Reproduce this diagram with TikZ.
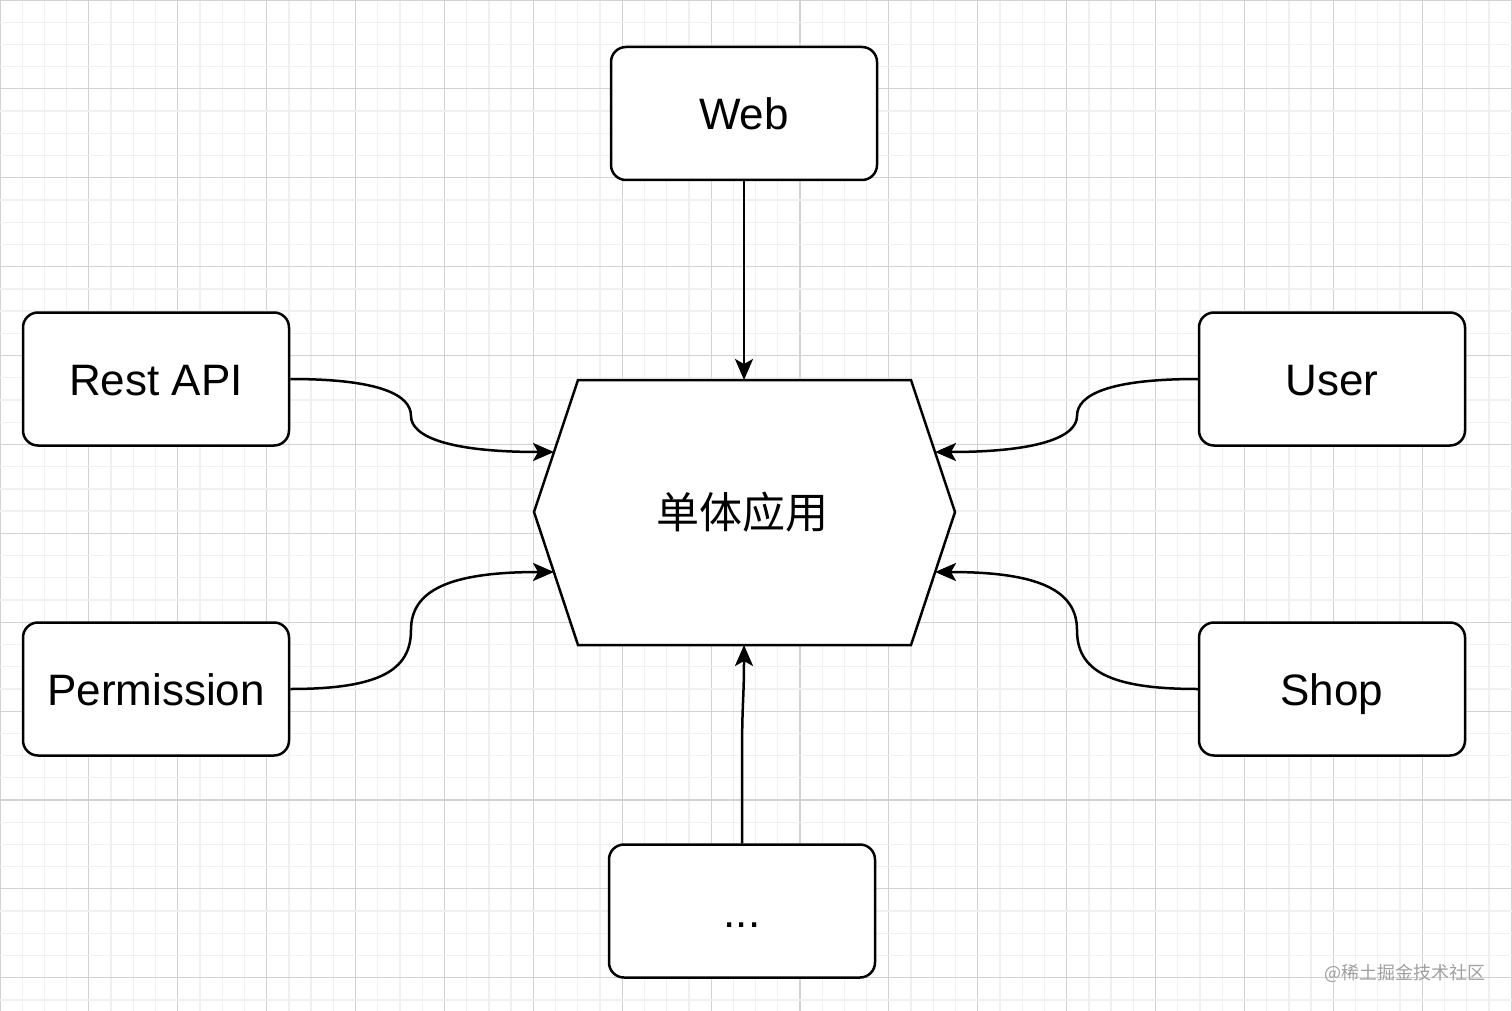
\documentclass[tikz,border=0pt]{standalone}
\usepackage{fontspec}
\setmainfont{Liberation Sans}
\newfontfamily\cjk{Noto Sans CJK SC}
\usetikzlibrary{arrows.meta}
\definecolor{gminor}{RGB}{240,240,240}
\definecolor{gmajor}{RGB}{210,210,210}
\definecolor{wm}{RGB}{160,160,160}
\begin{document}
\begin{tikzpicture}[x=1pt,y=-1pt,
  box/.style={draw=black,line width=2.5pt,rounded corners=15pt,fill=white,
    minimum width=266pt,minimum height=133pt,inner sep=0pt,
    text height=32pt,text depth=0pt,font=\fontsize{44}{50}\selectfont},
  conn/.style={line width=2.5pt,-{Stealth[length=21pt,width=18pt,inset=5pt]}},
]
\useasboundingbox (0,0) rectangle (1512,1011);
\fill[white] (0,0) rectangle (1512,1011);
% grid
\foreach \i in {0,...,68}{
  \pgfmathtruncatemacro\m{mod(\i,4)}
  \ifnum\m=0 \def\gc{gmajor}\def\gw{1.1pt}\else\def\gc{gminor}\def\gw{1.3pt}\fi
  \draw[\gc,line width=\gw] (\i*22.222,0) -- (\i*22.222,1011);
}
\foreach \j in {0,...,45}{
  \pgfmathtruncatemacro\m{mod(\j,4)}
  \ifnum\m=0 \def\gc{gmajor}\def\gw{1.1pt}\else\def\gc{gminor}\def\gw{1.3pt}\fi
  \draw[\gc,line width=\gw] (0,\j*22.222) -- (1512,\j*22.222);
}
% nodes
\node[box] (web) at (744,113.5) {Web};
\node[box] (rest) at (156,379) {Rest API};
\node[box] (perm) at (156,689) {Permission};
\node[box] (user) at (1332,379) {User};
\node[box] (shop) at (1332,689) {Shop};
\node[box] (more) at (742,911) {...};
% hexagon
\draw[line width=2.5pt,fill=white,line join=miter] (578,380) -- (911,380) -- (955,512) -- (911,645) -- (578,645) -- (534,512) -- cycle;
\node[font=\cjk\fontsize{43}{50}\selectfont] (app) at (742,512) {单体应用};
\coordinate (htop) at (744,380);
\coordinate (hbot) at (744,645);
\coordinate (hl1) at (554,452);
\coordinate (hl2) at (554,572);
\coordinate (hr1) at (935,452);
\coordinate (hr2) at (935,572);
% connectors
\draw[conn] (web.south) -- (htop);
\draw[conn] (rest.east) .. controls (380,379) and (411,395) .. (411,416) .. controls (411,437) and (450,452) .. (hl1);
\draw[conn] (perm.east) .. controls (380,689) and (411,670) .. (411,630) .. controls (411,590) and (450,572) .. (hl2);
\draw[conn] (user.west) .. controls (1108,379) and (1077,395) .. (1077,416) .. controls (1077,437) and (1038,452) .. (hr1);
\draw[conn] (shop.west) .. controls (1108,689) and (1077,670) .. (1077,630) .. controls (1077,590) and (1038,572) .. (hr2);
\draw[conn] (more.north) -- (742,760) .. controls (742,700) and (744,700) .. (hbot);
% watermark
\node[font=\cjk\fontsize{18}{20}\selectfont,text=wm,anchor=east,inner sep=0pt] (wmark) at (1486,973) {@稀土掘金技术社区};
\end{tikzpicture}
\end{document}
